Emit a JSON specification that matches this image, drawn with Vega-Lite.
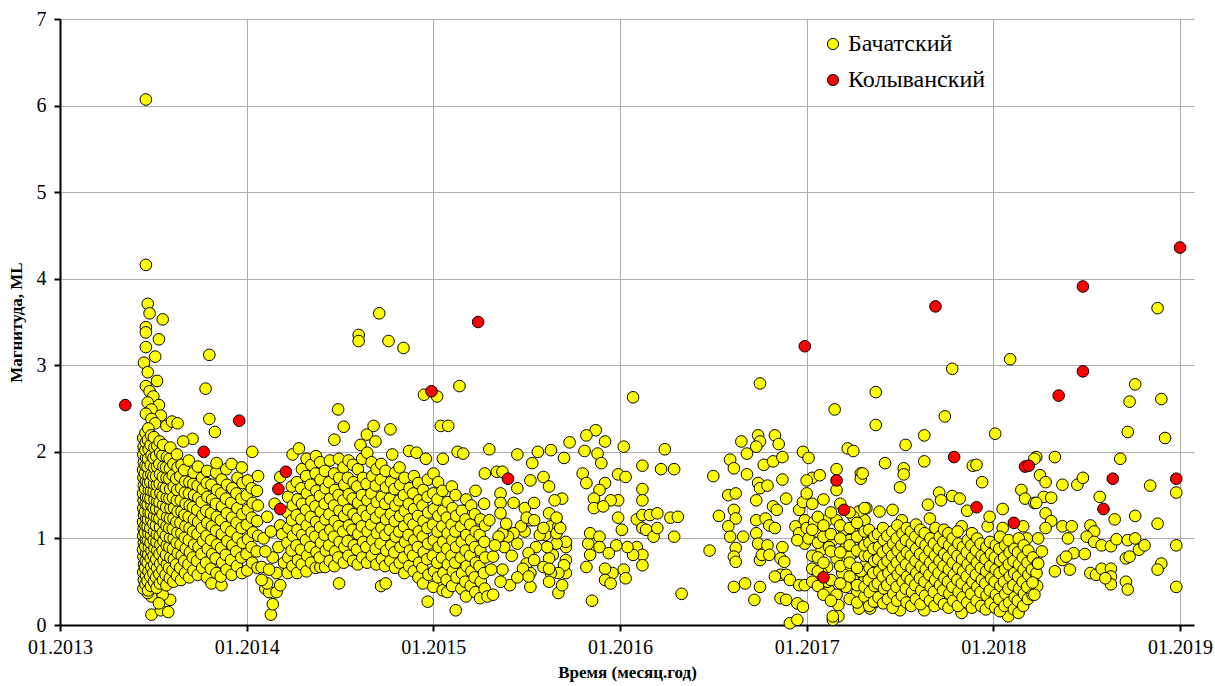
{
"$schema": "https://vega.github.io/schema/vega-lite/v6.json",
"width": 1134, "height": 606,
"autosize": {"type": "none"},
"padding": {"left": 60, "top": 19, "right": 21, "bottom": 61},
"background": "white",
"config": {"view": {"stroke": null}, "font": "Liberation Serif", "axis": {"labelFont": "Liberation Serif", "titleFont": "Liberation Serif"}, "legend": {"labelFont": "Liberation Serif"}},
"datasets": {
"k": [
{"t":2013.35,"m":2.54},{"t":2013.77,"m":2.00},{"t":2013.96,"m":2.36},{"t":2014.21,"m":1.77},{"t":2014.17,"m":1.57},{"t":2014.18,"m":1.34},{"t":2014.99,"m":2.70},{"t":2015.24,"m":3.50},{"t":2015.40,"m":1.69},{"t":2016.99,"m":3.22},{"t":2017.16,"m":1.67},{"t":2017.20,"m":1.33},{"t":2017.09,"m":0.55},{"t":2017.69,"m":3.68},{"t":2017.79,"m":1.94},{"t":2017.91,"m":1.36},{"t":2018.11,"m":1.18},{"t":2018.17,"m":1.83},{"t":2018.19,"m":1.84},{"t":2018.35,"m":2.65},{"t":2018.48,"m":3.91},{"t":2018.48,"m":2.93},{"t":2018.64,"m":1.69},{"t":2018.59,"m":1.34},{"t":2018.98,"m":1.69},{"t":2019.00,"m":4.36}
],
"b": [
{"t":2013.46,"m":6.07},{"t":2013.46,"m":4.16},{"t":2013.47,"m":3.71},{"t":2013.48,"m":3.60},{"t":2013.55,"m":3.53},{"t":2013.46,"m":3.44},{"t":2013.46,"m":3.38},{"t":2013.53,"m":3.30},{"t":2013.46,"m":3.21},{"t":2013.51,"m":3.10},{"t":2013.45,"m":3.03},{"t":2013.47,"m":2.92},{"t":2013.52,"m":2.82},{"t":2013.46,"m":2.76},{"t":2013.48,"m":2.70},{"t":2013.50,"m":2.64},{"t":2013.47,"m":2.57},{"t":2013.53,"m":2.54},{"t":2013.49,"m":2.49},{"t":2013.46,"m":2.44},{"t":2013.54,"m":2.42},{"t":2013.49,"m":2.38},{"t":2013.51,"m":2.33},{"t":2013.57,"m":2.30},{"t":2013.60,"m":2.35},{"t":2013.63,"m":2.33},{"t":2013.80,"m":3.12},{"t":2013.78,"m":2.73},{"t":2013.80,"m":2.38},{"t":2013.83,"m":2.23},{"t":2013.71,"m":2.15},{"t":2013.66,"m":2.12},
{"t":2013.49,"m":0.12},{"t":2013.54,"m":0.17},{"t":2013.58,"m":0.15},{"t":2013.59,"m":0.29},{"t":2013.49,"m":0.33},{"t":2013.55,"m":0.35},{"t":2013.47,"m":0.37},{"t":2013.53,"m":0.25},
{"t":2013.447,"m":0.42},{"t":2013.449,"m":0.52},{"t":2013.446,"m":0.61},{"t":2013.450,"m":0.70},{"t":2013.447,"m":0.79},{"t":2013.445,"m":0.87},{"t":2013.449,"m":0.95},{"t":2013.446,"m":1.03},{"t":2013.448,"m":1.11},{"t":2013.445,"m":1.19},{"t":2013.450,"m":1.27},{"t":2013.446,"m":1.35},{"t":2013.448,"m":1.44},{"t":2013.445,"m":1.52},{"t":2013.449,"m":1.61},{"t":2013.447,"m":1.70},{"t":2013.445,"m":1.79},{"t":2013.449,"m":1.88},{"t":2013.446,"m":1.97},{"t":2013.448,"m":2.06},{"t":2013.446,"m":2.16},
{"t":2013.458,"m":0.47},{"t":2013.461,"m":0.57},{"t":2013.456,"m":0.66},{"t":2013.459,"m":0.74},{"t":2013.462,"m":0.83},{"t":2013.457,"m":0.91},{"t":2013.460,"m":0.99},{"t":2013.455,"m":1.07},{"t":2013.458,"m":1.15},{"t":2013.462,"m":1.23},{"t":2013.456,"m":1.31},{"t":2013.459,"m":1.40},{"t":2013.461,"m":1.48},{"t":2013.457,"m":1.57},{"t":2013.460,"m":1.66},{"t":2013.455,"m":1.75},{"t":2013.458,"m":1.84},{"t":2013.461,"m":1.93},{"t":2013.457,"m":2.02},{"t":2013.460,"m":2.11},{"t":2013.458,"m":2.22},
{"t":2013.472,"m":0.40},{"t":2013.469,"m":0.51},{"t":2013.474,"m":0.62},{"t":2013.470,"m":0.72},{"t":2013.473,"m":0.81},{"t":2013.476,"m":0.90},{"t":2013.471,"m":0.98},{"t":2013.474,"m":1.06},{"t":2013.469,"m":1.14},{"t":2013.472,"m":1.22},{"t":2013.475,"m":1.30},{"t":2013.470,"m":1.39},{"t":2013.473,"m":1.47},{"t":2013.476,"m":1.56},{"t":2013.471,"m":1.64},{"t":2013.474,"m":1.73},{"t":2013.469,"m":1.83},{"t":2013.472,"m":1.92},{"t":2013.475,"m":2.03},{"t":2013.471,"m":2.14},{"t":2013.473,"m":2.27},
{"t":2013.487,"m":0.45},{"t":2013.484,"m":0.56},{"t":2013.489,"m":0.67},{"t":2013.486,"m":0.77},{"t":2013.490,"m":0.86},{"t":2013.485,"m":0.95},{"t":2013.488,"m":1.04},{"t":2013.484,"m":1.12},{"t":2013.489,"m":1.21},{"t":2013.486,"m":1.29},{"t":2013.490,"m":1.38},{"t":2013.485,"m":1.46},{"t":2013.488,"m":1.55},{"t":2013.484,"m":1.65},{"t":2013.489,"m":1.74},{"t":2013.486,"m":1.85},{"t":2013.490,"m":1.96},{"t":2013.485,"m":2.08},{"t":2013.488,"m":2.19},
{"t":2013.503,"m":0.50},{"t":2013.500,"m":0.60},{"t":2013.505,"m":0.70},{"t":2013.501,"m":0.80},{"t":2013.506,"m":0.89},{"t":2013.502,"m":0.98},{"t":2013.504,"m":1.08},{"t":2013.500,"m":1.17},{"t":2013.505,"m":1.26},{"t":2013.501,"m":1.35},{"t":2013.506,"m":1.45},{"t":2013.502,"m":1.54},{"t":2013.504,"m":1.63},{"t":2013.500,"m":1.72},{"t":2013.505,"m":1.82},{"t":2013.501,"m":1.93},{"t":2013.506,"m":2.05},{"t":2013.503,"m":2.17},
{"t":2013.518,"m":0.43},{"t":2013.515,"m":0.55},{"t":2013.520,"m":0.66},{"t":2013.516,"m":0.76},{"t":2013.521,"m":0.86},{"t":2013.517,"m":0.96},{"t":2013.519,"m":1.05},{"t":2013.515,"m":1.15},{"t":2013.520,"m":1.24},{"t":2013.516,"m":1.34},{"t":2013.521,"m":1.43},{"t":2013.517,"m":1.52},{"t":2013.519,"m":1.62},{"t":2013.515,"m":1.72},{"t":2013.520,"m":1.83},{"t":2013.516,"m":1.95},{"t":2013.521,"m":2.07},
{"t":2013.535,"m":0.48},{"t":2013.532,"m":0.59},{"t":2013.537,"m":0.71},{"t":2013.533,"m":0.82},{"t":2013.538,"m":0.93},{"t":2013.534,"m":1.03},{"t":2013.536,"m":1.13},{"t":2013.532,"m":1.23},{"t":2013.537,"m":1.33},{"t":2013.533,"m":1.42},{"t":2013.538,"m":1.52},{"t":2013.534,"m":1.63},{"t":2013.536,"m":1.74},{"t":2013.532,"m":1.86},{"t":2013.537,"m":1.99},{"t":2013.534,"m":2.12},
{"t":2013.552,"m":0.52},{"t":2013.549,"m":0.64},{"t":2013.555,"m":0.75},{"t":2013.550,"m":0.86},{"t":2013.554,"m":0.97},{"t":2013.551,"m":1.07},{"t":2013.556,"m":1.18},{"t":2013.549,"m":1.28},{"t":2013.553,"m":1.39},{"t":2013.550,"m":1.49},{"t":2013.555,"m":1.60},{"t":2013.551,"m":1.71},{"t":2013.554,"m":1.83},{"t":2013.549,"m":1.96},{"t":2013.553,"m":2.08},
{"t":2013.570,"m":0.46},{"t":2013.566,"m":0.58},{"t":2013.573,"m":0.70},{"t":2013.568,"m":0.81},{"t":2013.572,"m":0.92},{"t":2013.567,"m":1.03},{"t":2013.571,"m":1.14},{"t":2013.574,"m":1.25},{"t":2013.569,"m":1.36},{"t":2013.572,"m":1.47},{"t":2013.567,"m":1.58},{"t":2013.571,"m":1.70},{"t":2013.568,"m":1.82},{"t":2013.573,"m":1.94},
{"t":2013.588,"m":0.54},{"t":2013.584,"m":0.66},{"t":2013.591,"m":0.78},{"t":2013.586,"m":0.90},{"t":2013.590,"m":1.01},{"t":2013.585,"m":1.12},{"t":2013.589,"m":1.23},{"t":2013.592,"m":1.35},{"t":2013.586,"m":1.46},{"t":2013.590,"m":1.57},{"t":2013.585,"m":1.69},{"t":2013.589,"m":1.81},{"t":2013.587,"m":1.92},{"t":2013.591,"m":2.05},
{"t":2013.607,"m":0.50},{"t":2013.603,"m":0.63},{"t":2013.610,"m":0.76},{"t":2013.605,"m":0.88},{"t":2013.609,"m":1.00},{"t":2013.604,"m":1.11},{"t":2013.608,"m":1.23},{"t":2013.611,"m":1.35},{"t":2013.605,"m":1.47},{"t":2013.609,"m":1.60},{"t":2013.604,"m":1.73},{"t":2013.607,"m":1.86},
{"t":2013.627,"m":0.57},{"t":2013.623,"m":0.70},{"t":2013.631,"m":0.83},{"t":2013.625,"m":0.95},{"t":2013.629,"m":1.07},{"t":2013.624,"m":1.19},{"t":2013.630,"m":1.31},{"t":2013.626,"m":1.44},{"t":2013.628,"m":1.56},{"t":2013.623,"m":1.69},{"t":2013.630,"m":1.82},{"t":2013.627,"m":1.97},
{"t":2013.648,"m":0.52},{"t":2013.644,"m":0.66},{"t":2013.652,"m":0.80},{"t":2013.646,"m":0.93},{"t":2013.650,"m":1.06},{"t":2013.645,"m":1.18},{"t":2013.651,"m":1.31},{"t":2013.647,"m":1.44},{"t":2013.649,"m":1.58},{"t":2013.644,"m":1.72},{"t":2013.651,"m":1.85},
{"t":2013.670,"m":0.60},{"t":2013.666,"m":0.74},{"t":2013.674,"m":0.88},{"t":2013.668,"m":1.01},{"t":2013.672,"m":1.14},{"t":2013.667,"m":1.27},{"t":2013.673,"m":1.40},{"t":2013.669,"m":1.53},{"t":2013.671,"m":1.66},{"t":2013.666,"m":1.79},
{"t":2013.692,"m":0.55},{"t":2013.688,"m":0.70},{"t":2013.696,"m":0.84},{"t":2013.690,"m":0.98},{"t":2013.694,"m":1.12},{"t":2013.689,"m":1.25},{"t":2013.695,"m":1.38},{"t":2013.691,"m":1.52},{"t":2013.693,"m":1.65},{"t":2013.690,"m":1.90},
{"t":2013.715,"m":0.63},{"t":2013.711,"m":0.78},{"t":2013.719,"m":0.93},{"t":2013.713,"m":1.08},{"t":2013.717,"m":1.22},{"t":2013.712,"m":1.36},{"t":2013.718,"m":1.50},{"t":2013.714,"m":1.63},{"t":2013.716,"m":1.76},
{"t":2013.738,"m":0.58},{"t":2013.734,"m":0.74},{"t":2013.742,"m":0.90},{"t":2013.736,"m":1.05},{"t":2013.740,"m":1.19},{"t":2013.735,"m":1.33},{"t":2013.741,"m":1.47},{"t":2013.737,"m":1.61},{"t":2013.739,"m":1.83},
{"t":2013.762,"m":0.66},{"t":2013.758,"m":0.82},{"t":2013.766,"m":0.97},{"t":2013.760,"m":1.12},{"t":2013.764,"m":1.27},{"t":2013.759,"m":1.42},{"t":2013.765,"m":1.57},{"t":2013.761,"m":1.70},
{"t":2013.787,"m":0.55},{"t":2013.783,"m":0.72},{"t":2013.791,"m":0.88},{"t":2013.785,"m":1.03},{"t":2013.789,"m":1.18},{"t":2013.784,"m":1.32},{"t":2013.790,"m":1.48},{"t":2013.786,"m":1.64},{"t":2013.788,"m":1.78},
{"t":2013.812,"m":0.48},{"t":2013.808,"m":0.65},{"t":2013.816,"m":0.82},{"t":2013.810,"m":0.98},{"t":2013.814,"m":1.14},{"t":2013.809,"m":1.29},{"t":2013.815,"m":1.45},{"t":2013.811,"m":1.62},
{"t":2013.838,"m":0.60},{"t":2013.834,"m":0.77},{"t":2013.842,"m":0.93},{"t":2013.836,"m":1.09},{"t":2013.840,"m":1.25},{"t":2013.835,"m":1.40},{"t":2013.841,"m":1.56},{"t":2013.837,"m":1.76},{"t":2013.839,"m":1.87},
{"t":2013.865,"m":0.46},{"t":2013.861,"m":0.56},{"t":2013.869,"m":0.72},{"t":2013.863,"m":0.89},{"t":2013.867,"m":1.05},{"t":2013.862,"m":1.21},{"t":2013.868,"m":1.37},{"t":2013.864,"m":1.52},{"t":2013.866,"m":1.68},
{"t":2013.892,"m":0.64},{"t":2013.888,"m":0.81},{"t":2013.896,"m":0.97},{"t":2013.890,"m":1.13},{"t":2013.894,"m":1.29},{"t":2013.889,"m":1.46},{"t":2013.895,"m":1.62},{"t":2013.891,"m":1.80},
{"t":2013.920,"m":0.58},{"t":2013.916,"m":0.75},{"t":2013.924,"m":0.92},{"t":2013.918,"m":1.08},{"t":2013.922,"m":1.24},{"t":2013.917,"m":1.41},{"t":2013.923,"m":1.58},{"t":2013.919,"m":1.86},
{"t":2013.948,"m":0.68},{"t":2013.944,"m":0.85},{"t":2013.952,"m":1.01},{"t":2013.946,"m":1.18},{"t":2013.950,"m":1.35},{"t":2013.945,"m":1.52},{"t":2013.951,"m":1.70},
{"t":2013.975,"m":0.60},{"t":2013.971,"m":0.78},{"t":2013.979,"m":0.95},{"t":2013.973,"m":1.12},{"t":2013.977,"m":1.28},{"t":2013.972,"m":1.46},{"t":2013.978,"m":1.64},{"t":2013.974,"m":1.82},
{"t":2014.003,"m":0.63},{"t":2013.999,"m":0.82},{"t":2014.007,"m":0.99},{"t":2014.001,"m":1.16},{"t":2014.005,"m":1.33},{"t":2014.000,"m":1.50},{"t":2014.006,"m":1.67},{"t":2014.03,"m":2.00},
{"t":2014.030,"m":0.72},{"t":2014.026,"m":0.90},{"t":2014.034,"m":1.07},{"t":2014.028,"m":1.24},{"t":2014.032,"m":1.41},{"t":2014.027,"m":1.58},
{"t":2014.058,"m":0.66},{"t":2014.054,"m":0.85},{"t":2014.062,"m":1.03},{"t":2014.056,"m":1.20},{"t":2014.060,"m":1.38},{"t":2014.055,"m":1.55},{"t":2014.061,"m":1.72},
{"t":2014.13,"m":0.12},{"t":2014.14,"m":0.24},{"t":2014.10,"m":0.42},{"t":2014.12,"m":0.38},{"t":2014.16,"m":0.38},{"t":2014.18,"m":0.46},{"t":2014.11,"m":0.48},{"t":2014.08,"m":0.52},{"t":2014.16,"m":0.60},{"t":2014.08,"m":0.67},{"t":2014.12,"m":0.64},{"t":2014.14,"m":0.78},{"t":2014.10,"m":0.85},{"t":2014.17,"m":0.90},{"t":2014.09,"m":1.00},{"t":2014.13,"m":1.08},{"t":2014.18,"m":1.15},{"t":2014.11,"m":1.25},{"t":2014.15,"m":1.40},{"t":2014.19,"m":1.05},{"t":2014.20,"m":0.72},{"t":2014.18,"m":1.71},
{"t":2014.22,"m":0.60},{"t":2014.223,"m":0.78},{"t":2014.218,"m":0.95},{"t":2014.224,"m":1.12},{"t":2014.219,"m":1.30},{"t":2014.222,"m":1.48},
{"t":2014.245,"m":0.68},{"t":2014.241,"m":0.86},{"t":2014.248,"m":1.03},{"t":2014.243,"m":1.21},{"t":2014.247,"m":1.38},{"t":2014.242,"m":1.60},{"t":2014.246,"m":1.97},
{"t":2014.27,"m":0.60},{"t":2014.274,"m":0.75},{"t":2014.267,"m":0.92},{"t":2014.272,"m":1.10},{"t":2014.268,"m":1.27},{"t":2014.273,"m":1.45},{"t":2014.269,"m":1.65},{"t":2014.28,"m":2.04},
{"t":2014.295,"m":0.70},{"t":2014.291,"m":0.87},{"t":2014.298,"m":1.04},{"t":2014.293,"m":1.22},{"t":2014.297,"m":1.40},{"t":2014.292,"m":1.58},{"t":2014.296,"m":1.80},
{"t":2014.32,"m":0.62},{"t":2014.324,"m":0.80},{"t":2014.317,"m":0.98},{"t":2014.322,"m":1.15},{"t":2014.318,"m":1.33},{"t":2014.323,"m":1.52},{"t":2014.319,"m":1.72},{"t":2014.321,"m":1.92},
{"t":2014.345,"m":0.72},{"t":2014.341,"m":0.90},{"t":2014.348,"m":1.07},{"t":2014.343,"m":1.25},{"t":2014.347,"m":1.43},{"t":2014.342,"m":1.62},{"t":2014.346,"m":1.85},
{"t":2014.37,"m":0.66},{"t":2014.374,"m":0.84},{"t":2014.367,"m":1.02},{"t":2014.372,"m":1.19},{"t":2014.368,"m":1.37},{"t":2014.373,"m":1.55},{"t":2014.369,"m":1.75},{"t":2014.371,"m":1.95},
{"t":2014.395,"m":0.67},{"t":2014.391,"m":0.78},{"t":2014.398,"m":0.95},{"t":2014.393,"m":1.13},{"t":2014.397,"m":1.31},{"t":2014.392,"m":1.49},{"t":2014.396,"m":1.68},{"t":2014.394,"m":1.88},
{"t":2014.42,"m":0.67},{"t":2014.424,"m":0.86},{"t":2014.417,"m":1.04},{"t":2014.422,"m":1.22},{"t":2014.418,"m":1.40},{"t":2014.423,"m":1.58},{"t":2014.419,"m":1.78},
{"t":2014.445,"m":0.74},{"t":2014.441,"m":0.92},{"t":2014.448,"m":1.10},{"t":2014.443,"m":1.28},{"t":2014.447,"m":1.46},{"t":2014.442,"m":1.65},{"t":2014.446,"m":1.90},
{"t":2014.47,"m":0.68},{"t":2014.474,"m":0.85},{"t":2014.467,"m":1.02},{"t":2014.472,"m":1.20},{"t":2014.468,"m":1.38},{"t":2014.473,"m":1.56},{"t":2014.469,"m":1.75},{"t":2014.47,"m":2.14},
{"t":2014.495,"m":0.48},{"t":2014.491,"m":0.78},{"t":2014.498,"m":0.96},{"t":2014.493,"m":1.14},{"t":2014.497,"m":1.32},{"t":2014.492,"m":1.50},{"t":2014.496,"m":1.70},{"t":2014.494,"m":1.92},{"t":2014.49,"m":2.49},
{"t":2014.52,"m":0.72},{"t":2014.524,"m":0.90},{"t":2014.517,"m":1.08},{"t":2014.522,"m":1.26},{"t":2014.518,"m":1.44},{"t":2014.523,"m":1.62},{"t":2014.519,"m":1.82},{"t":2014.52,"m":2.29},
{"t":2014.545,"m":0.80},{"t":2014.541,"m":0.97},{"t":2014.548,"m":1.15},{"t":2014.543,"m":1.33},{"t":2014.547,"m":1.51},{"t":2014.542,"m":1.70},{"t":2014.546,"m":1.90},
{"t":2014.57,"m":0.74},{"t":2014.574,"m":0.92},{"t":2014.567,"m":1.10},{"t":2014.572,"m":1.28},{"t":2014.568,"m":1.46},{"t":2014.573,"m":1.65},{"t":2014.569,"m":1.85},
{"t":2014.595,"m":0.70},{"t":2014.591,"m":0.87},{"t":2014.598,"m":1.05},{"t":2014.593,"m":1.23},{"t":2014.597,"m":1.41},{"t":2014.592,"m":1.60},{"t":2014.596,"m":1.80},{"t":2014.61,"m":2.08},{"t":2014.60,"m":3.35},{"t":2014.60,"m":3.28},
{"t":2014.62,"m":0.78},{"t":2014.624,"m":0.96},{"t":2014.617,"m":1.14},{"t":2014.622,"m":1.32},{"t":2014.618,"m":1.50},{"t":2014.623,"m":1.70},{"t":2014.619,"m":1.92},
{"t":2014.645,"m":0.72},{"t":2014.641,"m":0.90},{"t":2014.648,"m":1.08},{"t":2014.643,"m":1.26},{"t":2014.647,"m":1.44},{"t":2014.642,"m":1.63},{"t":2014.646,"m":1.99},{"t":2014.644,"m":2.20},
{"t":2014.67,"m":0.80},{"t":2014.674,"m":0.98},{"t":2014.667,"m":1.16},{"t":2014.672,"m":1.34},{"t":2014.668,"m":1.52},{"t":2014.673,"m":1.72},{"t":2014.669,"m":1.88},
{"t":2014.695,"m":0.70},{"t":2014.691,"m":0.88},{"t":2014.698,"m":1.06},{"t":2014.693,"m":1.24},{"t":2014.697,"m":1.42},{"t":2014.692,"m":1.61},{"t":2014.696,"m":1.80},{"t":2014.69,"m":2.12},{"t":2014.68,"m":2.30},
{"t":2014.72,"m":0.45},{"t":2014.724,"m":0.76},{"t":2014.717,"m":0.94},{"t":2014.722,"m":1.12},{"t":2014.718,"m":1.30},{"t":2014.723,"m":1.48},{"t":2014.719,"m":1.68},{"t":2014.721,"m":1.86},{"t":2014.71,"m":3.60},
{"t":2014.745,"m":0.48},{"t":2014.741,"m":0.68},{"t":2014.748,"m":0.86},{"t":2014.743,"m":1.04},{"t":2014.747,"m":1.22},{"t":2014.742,"m":1.40},{"t":2014.746,"m":1.59},{"t":2014.744,"m":1.78},{"t":2014.76,"m":3.28},
{"t":2014.77,"m":0.74},{"t":2014.774,"m":0.92},{"t":2014.767,"m":1.10},{"t":2014.772,"m":1.28},{"t":2014.768,"m":1.46},{"t":2014.773,"m":1.65},{"t":2014.78,"m":1.97},{"t":2014.77,"m":2.26},
{"t":2014.795,"m":0.66},{"t":2014.791,"m":0.84},{"t":2014.798,"m":1.02},{"t":2014.793,"m":1.20},{"t":2014.797,"m":1.38},{"t":2014.792,"m":1.57},{"t":2014.796,"m":1.76},
{"t":2014.82,"m":0.72},{"t":2014.824,"m":0.90},{"t":2014.817,"m":1.08},{"t":2014.822,"m":1.26},{"t":2014.818,"m":1.44},{"t":2014.823,"m":1.62},{"t":2014.819,"m":1.82},{"t":2014.84,"m":3.20},
{"t":2014.845,"m":0.60},{"t":2014.841,"m":0.78},{"t":2014.848,"m":0.96},{"t":2014.843,"m":1.14},{"t":2014.847,"m":1.32},{"t":2014.842,"m":1.50},{"t":2014.846,"m":1.70},
{"t":2014.87,"m":0.68},{"t":2014.874,"m":0.86},{"t":2014.867,"m":1.04},{"t":2014.872,"m":1.22},{"t":2014.868,"m":1.40},{"t":2014.873,"m":1.58},{"t":2014.87,"m":2.01},
{"t":2014.895,"m":0.62},{"t":2014.891,"m":0.80},{"t":2014.898,"m":0.98},{"t":2014.893,"m":1.16},{"t":2014.897,"m":1.34},{"t":2014.892,"m":1.52},{"t":2014.896,"m":1.72},
{"t":2014.92,"m":0.55},{"t":2014.924,"m":0.72},{"t":2014.917,"m":0.90},{"t":2014.922,"m":1.08},{"t":2014.918,"m":1.26},{"t":2014.923,"m":1.44},{"t":2014.919,"m":1.64},{"t":2014.91,"m":1.99},
{"t":2014.945,"m":0.48},{"t":2014.941,"m":0.66},{"t":2014.948,"m":0.84},{"t":2014.943,"m":1.02},{"t":2014.947,"m":1.20},{"t":2014.942,"m":1.38},{"t":2014.946,"m":1.56},{"t":2014.96,"m":1.92},{"t":2014.95,"m":2.66},
{"t":2014.97,"m":0.27},{"t":2014.974,"m":0.58},{"t":2014.967,"m":0.76},{"t":2014.972,"m":0.94},{"t":2014.968,"m":1.12},{"t":2014.973,"m":1.30},{"t":2014.969,"m":1.48},{"t":2014.971,"m":1.68},
{"t":2015.00,"m":0.44},{"t":2015.004,"m":0.62},{"t":2014.997,"m":0.80},{"t":2015.002,"m":0.98},{"t":2014.998,"m":1.16},{"t":2015.003,"m":1.34},{"t":2014.999,"m":1.52},{"t":2015.001,"m":1.75},{"t":2015.02,"m":2.64},
{"t":2015.025,"m":0.55},{"t":2015.021,"m":0.72},{"t":2015.028,"m":0.90},{"t":2015.023,"m":1.08},{"t":2015.027,"m":1.26},{"t":2015.022,"m":1.45},{"t":2015.026,"m":1.65},{"t":2015.04,"m":2.30},
{"t":2015.05,"m":0.40},{"t":2015.054,"m":0.60},{"t":2015.047,"m":0.78},{"t":2015.052,"m":0.96},{"t":2015.048,"m":1.14},{"t":2015.053,"m":1.32},{"t":2015.049,"m":1.55},{"t":2015.051,"m":1.92},
{"t":2015.075,"m":0.38},{"t":2015.071,"m":0.52},{"t":2015.078,"m":0.70},{"t":2015.073,"m":0.88},{"t":2015.077,"m":1.06},{"t":2015.072,"m":1.24},{"t":2015.076,"m":1.42},{"t":2015.08,"m":2.30},
{"t":2015.10,"m":0.45},{"t":2015.104,"m":0.62},{"t":2015.097,"m":0.80},{"t":2015.102,"m":0.98},{"t":2015.098,"m":1.16},{"t":2015.103,"m":1.35},{"t":2015.099,"m":1.60},
{"t":2015.12,"m":0.17},{"t":2015.124,"m":0.55},{"t":2015.117,"m":0.72},{"t":2015.122,"m":0.90},{"t":2015.118,"m":1.08},{"t":2015.123,"m":1.26},{"t":2015.119,"m":1.50},{"t":2015.13,"m":2.00},{"t":2015.14,"m":2.76},
{"t":2015.15,"m":0.42},{"t":2015.154,"m":0.60},{"t":2015.147,"m":0.78},{"t":2015.152,"m":0.96},{"t":2015.148,"m":1.14},{"t":2015.153,"m":1.32},{"t":2015.16,"m":1.98},
{"t":2015.175,"m":0.33},{"t":2015.171,"m":0.50},{"t":2015.178,"m":0.68},{"t":2015.173,"m":0.86},{"t":2015.177,"m":1.04},{"t":2015.172,"m":1.22},{"t":2015.176,"m":1.45},
{"t":2015.20,"m":0.45},{"t":2015.204,"m":0.62},{"t":2015.197,"m":0.80},{"t":2015.202,"m":0.98},{"t":2015.198,"m":1.16},{"t":2015.203,"m":1.38},
{"t":2015.225,"m":0.38},{"t":2015.221,"m":0.55},{"t":2015.228,"m":0.72},{"t":2015.223,"m":0.90},{"t":2015.227,"m":1.08},{"t":2015.222,"m":1.28},{"t":2015.226,"m":1.55},
{"t":2015.25,"m":0.31},{"t":2015.254,"m":0.50},{"t":2015.247,"m":0.68},{"t":2015.252,"m":0.86},{"t":2015.248,"m":1.04},{"t":2015.253,"m":1.22},
{"t":2015.275,"m":0.42},{"t":2015.271,"m":0.60},{"t":2015.278,"m":0.78},{"t":2015.273,"m":0.96},{"t":2015.277,"m":1.15},{"t":2015.272,"m":1.40},{"t":2015.276,"m":1.75},
{"t":2015.29,"m":0.33},{"t":2015.30,"m":2.03},{"t":2015.34,"m":1.77},
{"t":2016.07,"m":2.63},{"t":2015.87,"m":2.25},{"t":2015.82,"m":2.19},{"t":2015.92,"m":2.12},{"t":2015.73,"m":2.11},{"t":2015.63,"m":2.02},{"t":2015.56,"m":2.00},{"t":2015.81,"m":2.01},{"t":2015.88,"m":1.98},{"t":2016.02,"m":2.06},{"t":2016.24,"m":2.03},{"t":2015.45,"m":1.97},{"t":2015.70,"m":1.93},{"t":2015.53,"m":1.87},{"t":2015.90,"m":1.87},{"t":2016.12,"m":1.84},{"t":2016.22,"m":1.80},{"t":2016.29,"m":1.80},{"t":2015.80,"m":1.75},{"t":2015.99,"m":1.74},{"t":2016.03,"m":1.71},{"t":2015.37,"m":1.77},{"t":2015.52,"m":1.67},{"t":2015.59,"m":1.71},{"t":2015.62,"m":1.60},{"t":2015.82,"m":1.64},{"t":2015.92,"m":1.64},{"t":2015.89,"m":1.56},{"t":2015.45,"m":1.58},{"t":2016.12,"m":1.57},{"t":2016.12,"m":1.44},{"t":2015.69,"m":1.46},{"t":2015.65,"m":1.44},{"t":2015.86,"m":1.46},{"t":2015.99,"m":1.44},{"t":2015.95,"m":1.44},{"t":2015.36,"m":1.52},{"t":2015.36,"m":1.41},{"t":2015.43,"m":1.41},{"t":2015.49,"m":1.35},{"t":2015.54,"m":1.41},{"t":2015.86,"m":1.35},{"t":2015.91,"m":1.37},{"t":2016.09,"m":1.22},{"t":2016.12,"m":1.27},{"t":2016.16,"m":1.27},{"t":2016.20,"m":1.29},{"t":2016.27,"m":1.24},{"t":2016.31,"m":1.25},{"t":2015.99,"m":1.24},{"t":2016.01,"m":1.10},{"t":2015.62,"m":1.29},{"t":2015.63,"m":1.14},{"t":2015.67,"m":1.14},{"t":2015.52,"m":1.21},
{"t":2016.12,"m":1.12},{"t":2016.14,"m":1.10},{"t":2016.18,"m":1.02},{"t":2016.20,"m":1.12},{"t":2016.29,"m":1.02},{"t":2016.09,"m":0.90},{"t":2016.12,"m":0.81},{"t":2016.12,"m":0.69},{"t":2016.07,"m":0.81},{"t":2016.04,"m":0.90},{"t":2015.98,"m":0.92},{"t":2016.02,"m":0.64},{"t":2015.96,"m":0.60},{"t":2016.03,"m":0.54},{"t":2015.92,"m":0.65},{"t":2015.92,"m":0.52},{"t":2015.95,"m":0.48},{"t":2015.85,"m":0.28},{"t":2016.33,"m":0.36},{"t":2015.82,"m":0.67},{"t":2015.84,"m":0.81},{"t":2015.83,"m":0.94},{"t":2015.84,"m":1.06},{"t":2015.89,"m":1.02},{"t":2015.89,"m":0.90},{"t":2015.94,"m":0.83},
{"t":2015.41,"m":0.46},{"t":2015.52,"m":0.44},{"t":2015.67,"m":0.37},{"t":2015.69,"m":0.46},{"t":2015.71,"m":0.60},{"t":2015.71,"m":0.75},{"t":2015.71,"m":0.90},{"t":2015.71,"m":0.96},{"t":2015.70,"m":0.69},{"t":2015.67,"m":0.60},{"t":2015.63,"m":0.60},{"t":2015.64,"m":0.81},{"t":2015.66,"m":0.94},{"t":2015.62,"m":0.77},{"t":2015.61,"m":0.90},{"t":2015.60,"m":1.04},{"t":2015.57,"m":1.04},{"t":2015.55,"m":0.90},{"t":2015.51,"m":0.83},{"t":2015.50,"m":0.71},{"t":2015.52,"m":0.60},{"t":2015.49,"m":1.08},{"t":2015.47,"m":1.14},{"t":2015.45,"m":0.94},{"t":2015.43,"m":1.06},{"t":2015.40,"m":1.02},{"t":2015.37,"m":1.06},{"t":2015.35,"m":1.02},{"t":2015.37,"m":0.64},{"t":2015.32,"m":0.79},{"t":2015.32,"m":0.35},{"t":2015.36,"m":0.50},{"t":2015.38,"m":0.90},{"t":2015.48,"m":0.65},{"t":2015.51,"m":0.56},{"t":2015.54,"m":0.75},{"t":2015.59,"m":0.67},{"t":2015.62,"m":0.50},{"t":2015.62,"m":0.65},{"t":2015.30,"m":1.21},{"t":2015.36,"m":1.29},{"t":2015.39,"m":1.17},{"t":2015.50,"m":1.24},{"t":2015.54,"m":1.21},{"t":2015.59,"m":1.12},{"t":2015.66,"m":1.06},{"t":2015.68,"m":1.12},{"t":2015.66,"m":1.24},{"t":2015.31,"m":0.64},{"t":2015.33,"m":0.92},{"t":2015.42,"m":0.80},{"t":2015.45,"m":0.55},
{"t":2016.48,"m":0.86},{"t":2016.53,"m":1.26},{"t":2016.50,"m":1.72},
{"t":2016.75,"m":2.79},{"t":2017.15,"m":2.49},{"t":2016.65,"m":2.12},{"t":2016.74,"m":2.19},{"t":2016.75,"m":2.12},{"t":2016.73,"m":2.06},{"t":2016.83,"m":2.19},{"t":2016.85,"m":2.09},{"t":2016.68,"m":1.98},{"t":2016.59,"m":1.91},{"t":2016.61,"m":1.81},{"t":2016.68,"m":1.74},{"t":2016.77,"m":1.85},{"t":2016.82,"m":1.89},{"t":2016.87,"m":1.94},{"t":2016.87,"m":1.68},{"t":2016.98,"m":2.00},{"t":2017.01,"m":1.93},{"t":2017.22,"m":2.04},{"t":2017.25,"m":2.01},{"t":2017.29,"m":1.75},{"t":2017.29,"m":1.69},{"t":2017.16,"m":1.80},{"t":2017.16,"m":1.56},{"t":2017.03,"m":1.70},{"t":2017.07,"m":1.73},{"t":2016.74,"m":1.64},{"t":2016.75,"m":1.58},{"t":2016.79,"m":1.61},{"t":2016.58,"m":1.50},{"t":2016.62,"m":1.52},{"t":2016.61,"m":1.33},{"t":2016.62,"m":1.23},{"t":2016.58,"m":1.14},{"t":2016.59,"m":1.02},{"t":2016.62,"m":0.89},{"t":2016.61,"m":0.79},{"t":2016.62,"m":0.73},{"t":2016.66,"m":1.02},{"t":2016.73,"m":1.44},{"t":2016.73,"m":1.21},{"t":2016.73,"m":1.06},{"t":2016.74,"m":0.94},{"t":2016.75,"m":0.75},{"t":2016.76,"m":0.81},{"t":2016.78,"m":1.23},{"t":2016.80,"m":1.15},{"t":2016.82,"m":1.37},{"t":2016.84,"m":1.33},{"t":2016.83,"m":1.12},{"t":2016.79,"m":0.92},{"t":2016.80,"m":0.81},{"t":2016.87,"m":0.90},{"t":2016.86,"m":0.77},{"t":2016.88,"m":0.73},{"t":2016.89,"m":1.46},{"t":2016.94,"m":1.14},{"t":2016.86,"m":0.58},{"t":2016.83,"m":0.56},{"t":2016.89,"m":0.58},{"t":2016.91,"m":0.52},{"t":2016.96,"m":0.46},{"t":2016.99,"m":0.46},{"t":2016.86,"m":0.31},{"t":2016.89,"m":0.29},{"t":2016.95,"m":0.25},{"t":2016.98,"m":0.21},{"t":2016.91,"m":0.02},{"t":2016.95,"m":0.06},{"t":2016.72,"m":0.29},{"t":2016.61,"m":0.44},{"t":2016.67,"m":0.48},{"t":2016.75,"m":0.44},{"t":2016.96,"m":1.33},{"t":2016.98,"m":1.42},{"t":2017.00,"m":1.52},{"t":2017.00,"m":1.67},{"t":2016.99,"m":1.21},{"t":2016.96,"m":1.06},{"t":2016.99,"m":0.94},{"t":2016.95,"m":0.98},{"t":2017.00,"m":1.12},{"t":2017.01,"m":1.00},
{"t":2017.04,"m":1.19},{"t":2017.11,"m":1.21},{"t":2017.16,"m":1.21},{"t":2017.20,"m":1.10},{"t":2017.14,"m":0.98},{"t":2017.21,"m":0.90},{"t":2017.16,"m":0.77},{"t":2017.11,"m":0.67},{"t":2017.12,"m":0.40},{"t":2017.16,"m":0.35},{"t":2017.17,"m":0.23},{"t":2017.17,"m":0.10},{"t":2017.14,"m":0.06},{"t":2017.25,"m":0.52},{"t":2017.28,"m":0.19},{"t":2017.21,"m":0.64},{"t":2017.25,"m":0.83},{"t":2017.25,"m":1.06},{"t":2017.31,"m":1.21},{"t":2017.30,"m":0.98},{"t":2017.32,"m":0.71},{"t":2017.31,"m":0.52},{"t":2017.32,"m":1.35},{"t":2017.28,"m":1.31},{"t":2017.08,"m":0.60},{"t":2017.11,"m":0.50},{"t":2017.21,"m":0.44},{"t":2017.29,"m":0.62},{"t":2017.23,"m":0.79},{"t":2017.08,"m":0.87},{"t":2017.07,"m":1.06},{"t":2017.12,"m":0.90},{"t":2017.25,"m":1.25},{"t":2017.23,"m":0.98},{"t":2017.19,"m":0.60},{"t":2017.27,"m":0.37},
{"t":2017.03,"m":0.50},{"t":2017.03,"m":0.65},{"t":2017.03,"m":0.80},{"t":2017.03,"m":1.10},{"t":2017.03,"m":1.40},{"t":2017.06,"m":0.45},{"t":2017.06,"m":0.62},{"t":2017.06,"m":0.78},{"t":2017.06,"m":0.95},{"t":2017.06,"m":1.25},{"t":2017.09,"m":0.35},{"t":2017.09,"m":0.72},{"t":2017.09,"m":1.02},{"t":2017.09,"m":1.15},{"t":2017.09,"m":1.45},{"t":2017.13,"m":0.28},{"t":2017.13,"m":0.52},{"t":2017.13,"m":0.85},{"t":2017.13,"m":1.05},{"t":2017.13,"m":1.30},{"t":2017.18,"m":0.48},{"t":2017.18,"m":0.68},{"t":2017.18,"m":0.84},{"t":2017.18,"m":1.00},{"t":2017.18,"m":1.15},{"t":2017.18,"m":1.40},{"t":2017.23,"m":0.30},{"t":2017.23,"m":0.56},{"t":2017.23,"m":0.72},{"t":2017.23,"m":0.92},{"t":2017.23,"m":1.12},{"t":2017.23,"m":1.30},{"t":2017.27,"m":0.26},{"t":2017.27,"m":0.46},{"t":2017.27,"m":0.66},{"t":2017.27,"m":0.86},{"t":2017.27,"m":1.02},{"t":2017.27,"m":1.18},{"t":2017.31,"m":0.33},{"t":2017.31,"m":0.44},{"t":2017.31,"m":0.80},{"t":2017.31,"m":0.92},{"t":2017.31,"m":1.08},
{"t":2018.09,"m":3.07},{"t":2017.78,"m":2.96},{"t":2017.37,"m":2.69},{"t":2017.37,"m":2.31},{"t":2017.74,"m":2.41},{"t":2018.01,"m":2.21},{"t":2017.63,"m":2.19},{"t":2017.53,"m":2.08},{"t":2017.42,"m":1.87},{"t":2017.63,"m":1.89},{"t":2017.52,"m":1.81},{"t":2017.52,"m":1.74},{"t":2017.89,"m":1.84},{"t":2017.91,"m":1.85},{"t":2017.94,"m":1.65},{"t":2017.50,"m":1.59},{"t":2017.71,"m":1.53},{"t":2017.72,"m":1.44},{"t":2017.78,"m":1.49},{"t":2017.82,"m":1.46},{"t":2017.65,"m":1.39},{"t":2017.86,"m":1.32},{"t":2018.05,"m":1.34},{"t":2018.15,"m":1.56},{"t":2018.17,"m":1.46},{"t":2018.22,"m":1.41},{"t":2018.23,"m":1.94},{"t":2017.30,"m":1.75},{"t":2017.31,"m":1.35},{"t":2017.39,"m":1.31},{"t":2017.46,"m":1.33},{"t":2017.51,"m":1.21},{"t":2017.66,"m":1.23},{"t":2017.69,"m":1.12},{"t":2017.83,"m":1.14},{"t":2017.97,"m":1.14},{"t":2017.98,"m":1.25},{"t":2018.05,"m":1.12},{"t":2018.16,"m":1.14},{"t":2018.18,"m":1.00},
{"t":2017.63,"m":0.17},{"t":2017.83,"m":0.14},{"t":2018.08,"m":0.10},{"t":2017.34,"m":0.19},{"t":2017.37,"m":0.27},{"t":2017.50,"m":0.17},{"t":2017.14,"m":0.10},
{"t":2017.335,"m":0.22},{"t":2017.338,"m":0.38},{"t":2017.332,"m":0.52},{"t":2017.337,"m":0.66},{"t":2017.333,"m":0.80},{"t":2017.336,"m":0.95},{"t":2017.334,"m":1.10},
{"t":2017.36,"m":0.27},{"t":2017.364,"m":0.45},{"t":2017.357,"m":0.60},{"t":2017.362,"m":0.74},{"t":2017.358,"m":0.88},{"t":2017.363,"m":1.02},
{"t":2017.385,"m":0.32},{"t":2017.381,"m":0.48},{"t":2017.388,"m":0.62},{"t":2017.383,"m":0.76},{"t":2017.387,"m":0.90},{"t":2017.382,"m":1.05},
{"t":2017.41,"m":0.25},{"t":2017.414,"m":0.42},{"t":2017.407,"m":0.56},{"t":2017.412,"m":0.70},{"t":2017.408,"m":0.84},{"t":2017.413,"m":0.98},{"t":2017.409,"m":1.12},
{"t":2017.435,"m":0.30},{"t":2017.431,"m":0.46},{"t":2017.438,"m":0.60},{"t":2017.433,"m":0.74},{"t":2017.437,"m":0.88},{"t":2017.432,"m":1.03},
{"t":2017.46,"m":0.20},{"t":2017.464,"m":0.36},{"t":2017.457,"m":0.52},{"t":2017.462,"m":0.66},{"t":2017.458,"m":0.80},{"t":2017.463,"m":0.94},{"t":2017.459,"m":1.08},
{"t":2017.485,"m":0.28},{"t":2017.481,"m":0.44},{"t":2017.488,"m":0.58},{"t":2017.483,"m":0.72},{"t":2017.487,"m":0.86},{"t":2017.482,"m":1.00},{"t":2017.486,"m":1.15},
{"t":2017.51,"m":0.34},{"t":2017.514,"m":0.50},{"t":2017.507,"m":0.64},{"t":2017.512,"m":0.78},{"t":2017.508,"m":0.92},{"t":2017.513,"m":1.06},
{"t":2017.535,"m":0.26},{"t":2017.531,"m":0.42},{"t":2017.538,"m":0.56},{"t":2017.533,"m":0.70},{"t":2017.537,"m":0.84},{"t":2017.532,"m":0.98},{"t":2017.536,"m":1.12},
{"t":2017.56,"m":0.22},{"t":2017.564,"m":0.38},{"t":2017.557,"m":0.52},{"t":2017.562,"m":0.66},{"t":2017.558,"m":0.80},{"t":2017.563,"m":0.94},{"t":2017.559,"m":1.08},
{"t":2017.585,"m":0.30},{"t":2017.581,"m":0.46},{"t":2017.588,"m":0.60},{"t":2017.583,"m":0.74},{"t":2017.587,"m":0.88},{"t":2017.582,"m":1.02},{"t":2017.586,"m":1.16},
{"t":2017.61,"m":0.24},{"t":2017.614,"m":0.40},{"t":2017.607,"m":0.54},{"t":2017.612,"m":0.68},{"t":2017.608,"m":0.82},{"t":2017.613,"m":0.96},{"t":2017.609,"m":1.10},
{"t":2017.635,"m":0.34},{"t":2017.631,"m":0.50},{"t":2017.638,"m":0.64},{"t":2017.633,"m":0.78},{"t":2017.637,"m":0.92},{"t":2017.632,"m":1.06},
{"t":2017.66,"m":0.28},{"t":2017.664,"m":0.44},{"t":2017.657,"m":0.58},{"t":2017.662,"m":0.72},{"t":2017.658,"m":0.86},{"t":2017.663,"m":1.00},
{"t":2017.685,"m":0.22},{"t":2017.681,"m":0.38},{"t":2017.688,"m":0.52},{"t":2017.683,"m":0.66},{"t":2017.687,"m":0.80},{"t":2017.682,"m":0.94},
{"t":2017.71,"m":0.30},{"t":2017.714,"m":0.46},{"t":2017.707,"m":0.60},{"t":2017.712,"m":0.74},{"t":2017.708,"m":0.88},{"t":2017.713,"m":1.02},
{"t":2017.735,"m":0.24},{"t":2017.731,"m":0.40},{"t":2017.738,"m":0.54},{"t":2017.733,"m":0.68},{"t":2017.737,"m":0.82},{"t":2017.732,"m":0.96},{"t":2017.736,"m":1.10},
{"t":2017.76,"m":0.20},{"t":2017.764,"m":0.36},{"t":2017.757,"m":0.50},{"t":2017.762,"m":0.64},{"t":2017.758,"m":0.78},{"t":2017.763,"m":0.92},{"t":2017.759,"m":1.06},
{"t":2017.785,"m":0.28},{"t":2017.781,"m":0.44},{"t":2017.788,"m":0.58},{"t":2017.783,"m":0.72},{"t":2017.787,"m":0.86},{"t":2017.782,"m":1.00},
{"t":2017.81,"m":0.22},{"t":2017.814,"m":0.38},{"t":2017.807,"m":0.52},{"t":2017.812,"m":0.66},{"t":2017.808,"m":0.80},{"t":2017.813,"m":0.94},{"t":2017.809,"m":1.08},
{"t":2017.835,"m":0.32},{"t":2017.831,"m":0.48},{"t":2017.838,"m":0.62},{"t":2017.833,"m":0.76},{"t":2017.837,"m":0.90},
{"t":2017.86,"m":0.26},{"t":2017.864,"m":0.42},{"t":2017.857,"m":0.56},{"t":2017.862,"m":0.70},{"t":2017.858,"m":0.84},{"t":2017.863,"m":0.98},
{"t":2017.885,"m":0.20},{"t":2017.881,"m":0.36},{"t":2017.888,"m":0.50},{"t":2017.883,"m":0.64},{"t":2017.887,"m":0.78},{"t":2017.882,"m":0.92},{"t":2017.886,"m":1.06},
{"t":2017.91,"m":0.28},{"t":2017.914,"m":0.44},{"t":2017.907,"m":0.58},{"t":2017.912,"m":0.72},{"t":2017.908,"m":0.86},{"t":2017.913,"m":1.00},
{"t":2017.935,"m":0.22},{"t":2017.931,"m":0.38},{"t":2017.938,"m":0.52},{"t":2017.933,"m":0.66},{"t":2017.937,"m":0.80},{"t":2017.932,"m":0.94},
{"t":2017.96,"m":0.18},{"t":2017.964,"m":0.34},{"t":2017.957,"m":0.48},{"t":2017.962,"m":0.62},{"t":2017.958,"m":0.76},{"t":2017.963,"m":0.90},
{"t":2017.985,"m":0.25},{"t":2017.981,"m":0.40},{"t":2017.988,"m":0.54},{"t":2017.983,"m":0.68},{"t":2017.987,"m":0.82},{"t":2017.982,"m":0.96},
{"t":2018.01,"m":0.20},{"t":2018.014,"m":0.35},{"t":2018.007,"m":0.50},{"t":2018.012,"m":0.64},{"t":2018.008,"m":0.78},{"t":2018.013,"m":0.92},
{"t":2018.035,"m":0.16},{"t":2018.031,"m":0.30},{"t":2018.038,"m":0.45},{"t":2018.033,"m":0.60},{"t":2018.037,"m":0.74},{"t":2018.032,"m":0.88},{"t":2018.036,"m":1.02},
{"t":2018.06,"m":0.22},{"t":2018.064,"m":0.36},{"t":2018.057,"m":0.50},{"t":2018.062,"m":0.64},{"t":2018.058,"m":0.78},{"t":2018.063,"m":0.92},
{"t":2018.085,"m":0.26},{"t":2018.081,"m":0.42},{"t":2018.088,"m":0.56},{"t":2018.083,"m":0.70},{"t":2018.087,"m":0.84},{"t":2018.082,"m":0.98},
{"t":2018.11,"m":0.18},{"t":2018.114,"m":0.32},{"t":2018.107,"m":0.46},{"t":2018.112,"m":0.60},{"t":2018.108,"m":0.74},{"t":2018.113,"m":0.88},
{"t":2018.135,"m":0.14},{"t":2018.131,"m":0.28},{"t":2018.138,"m":0.42},{"t":2018.133,"m":0.56},{"t":2018.137,"m":0.70},{"t":2018.132,"m":0.84},{"t":2018.136,"m":1.00},
{"t":2018.16,"m":0.22},{"t":2018.164,"m":0.36},{"t":2018.157,"m":0.50},{"t":2018.162,"m":0.64},{"t":2018.158,"m":0.78},{"t":2018.163,"m":0.92},
{"t":2018.185,"m":0.30},{"t":2018.181,"m":0.44},{"t":2018.188,"m":0.58},{"t":2018.183,"m":0.72},{"t":2018.187,"m":0.86},
{"t":2018.21,"m":0.35},{"t":2018.214,"m":0.50},{"t":2018.207,"m":0.64},{"t":2018.212,"m":0.78},
{"t":2018.235,"m":0.45},{"t":2018.231,"m":0.60},{"t":2018.238,"m":0.71},
{"t":2018.88,"m":3.66},{"t":2018.76,"m":2.78},{"t":2018.73,"m":2.58},{"t":2018.90,"m":2.61},{"t":2018.72,"m":2.23},{"t":2018.92,"m":2.16},{"t":2018.68,"m":1.92},{"t":2018.33,"m":1.94},{"t":2018.22,"m":1.92},{"t":2018.25,"m":1.73},{"t":2018.28,"m":1.65},{"t":2018.37,"m":1.62},{"t":2018.45,"m":1.62},{"t":2018.48,"m":1.70},{"t":2018.84,"m":1.61},{"t":2018.98,"m":1.53},{"t":2018.57,"m":1.48},{"t":2018.65,"m":1.22},{"t":2018.76,"m":1.26},{"t":2018.88,"m":1.17},{"t":2018.27,"m":1.48},{"t":2018.31,"m":1.47},{"t":2018.23,"m":1.41},{"t":2018.28,"m":1.29},{"t":2018.31,"m":1.20},{"t":2018.28,"m":1.12},{"t":2018.37,"m":1.14},{"t":2018.42,"m":1.14},{"t":2018.40,"m":1.00},{"t":2018.52,"m":1.15},{"t":2018.54,"m":1.08},{"t":2018.50,"m":1.02},{"t":2018.54,"m":0.96},{"t":2018.58,"m":0.92},{"t":2018.63,"m":0.91},{"t":2018.66,"m":0.99},{"t":2018.72,"m":0.98},{"t":2018.76,"m":1.00},{"t":2018.78,"m":0.87},{"t":2018.81,"m":0.92},{"t":2018.98,"m":0.92},{"t":2018.37,"m":0.75},{"t":2018.43,"m":0.83},{"t":2018.49,"m":0.82},{"t":2018.39,"m":0.79},{"t":2018.24,"m":0.71},{"t":2018.33,"m":0.62},{"t":2018.41,"m":0.64},{"t":2018.52,"m":0.60},{"t":2018.55,"m":0.58},{"t":2018.58,"m":0.65},{"t":2018.63,"m":0.65},{"t":2018.63,"m":0.56},{"t":2018.63,"m":0.47},{"t":2018.60,"m":0.54},{"t":2018.71,"m":0.77},{"t":2018.73,"m":0.79},{"t":2018.71,"m":0.50},{"t":2018.72,"m":0.41},{"t":2018.90,"m":0.71},{"t":2018.88,"m":0.64},{"t":2018.98,"m":0.44},{"t":2018.21,"m":0.49},{"t":2018.22,"m":0.35},{"t":2018.26,"m":0.85},{"t":2018.24,"m":1.00}
]
},
"layer": [
{"data": {"name": "b"},
 "mark": {"type": "point", "shape": "circle", "filled": true, "size": 135, "opacity": 1, "stroke": "#000000", "strokeWidth": 1},
 "encoding": {
  "x": {"field": "t", "type": "quantitative",
        "scale": {"domain": [2013, 2019.075], "nice": false, "zero": false},
        "axis": {"values": [2013, 2014, 2015, 2016, 2017, 2018, 2019], "labelExpr": "'01.' + datum.value",
                 "title": "Время (месяц.год)", "titleFont": "Liberation Serif", "titleFontSize": 17, "titleFontWeight": "bold", "titleColor": "#000000", "titlePadding": 7,
                 "labelFont": "Liberation Serif", "labelFontSize": 20, "labelColor": "#000000", "labelFlush": false, "labelOverlap": false, "labelPadding": 6,
                 "grid": true, "gridColor": "#ABABAB", "gridWidth": 1,
                 "domainColor": "#000000", "domainWidth": 2, "tickColor": "#000000", "tickWidth": 2, "tickSize": 6}},
  "y": {"field": "m", "type": "quantitative",
        "scale": {"domain": [0, 7], "nice": false},
        "axis": {"values": [0, 1, 2, 3, 4, 5, 6, 7], "format": "d", "title": "Магнитуда, ML", "titleFont": "Liberation Serif", "titleFontSize": 17, "titleFontWeight": "bold", "titleColor": "#000000",
                 "titleX": -35, "titleY": 303, "titleAngle": 270, "titleAlign": "center", "titleBaseline": "bottom",
                 "labelFont": "Liberation Serif", "labelFontSize": 20, "labelColor": "#000000", "labelPadding": 8,
                 "grid": true, "gridColor": "#ABABAB", "gridWidth": 1,
                 "domainColor": "#000000", "domainWidth": 2, "tickColor": "#000000", "tickWidth": 2, "tickSize": 6}},
  "color": {"datum": "Бачатский", "type": "nominal",
            "scale": {"domain": ["Бачатский", "Колыванский"], "range": ["#FFFF00", "#FF0000"]},
            "legend": {"orient": "none", "legendX": 761, "legendY": 13, "title": null, "padding": 0,
                       "labelFont": "Liberation Serif", "labelFontSize": 24, "labelColor": "#000000", "labelOffset": 3,
                       "symbolType": "circle", "symbolSize": 125, "symbolStrokeColor": "#000000", "symbolStrokeWidth": 1, "symbolOpacity": 1,
                       "rowPadding": 12}}
 }},
{"data": {"name": "k"},
 "mark": {"type": "point", "shape": "circle", "filled": true, "size": 135, "opacity": 1, "stroke": "#000000", "strokeWidth": 1},
 "encoding": {
  "x": {"field": "t", "type": "quantitative"},
  "y": {"field": "m", "type": "quantitative"},
  "color": {"datum": "Колыванский", "type": "nominal"}
 }}
]
}
